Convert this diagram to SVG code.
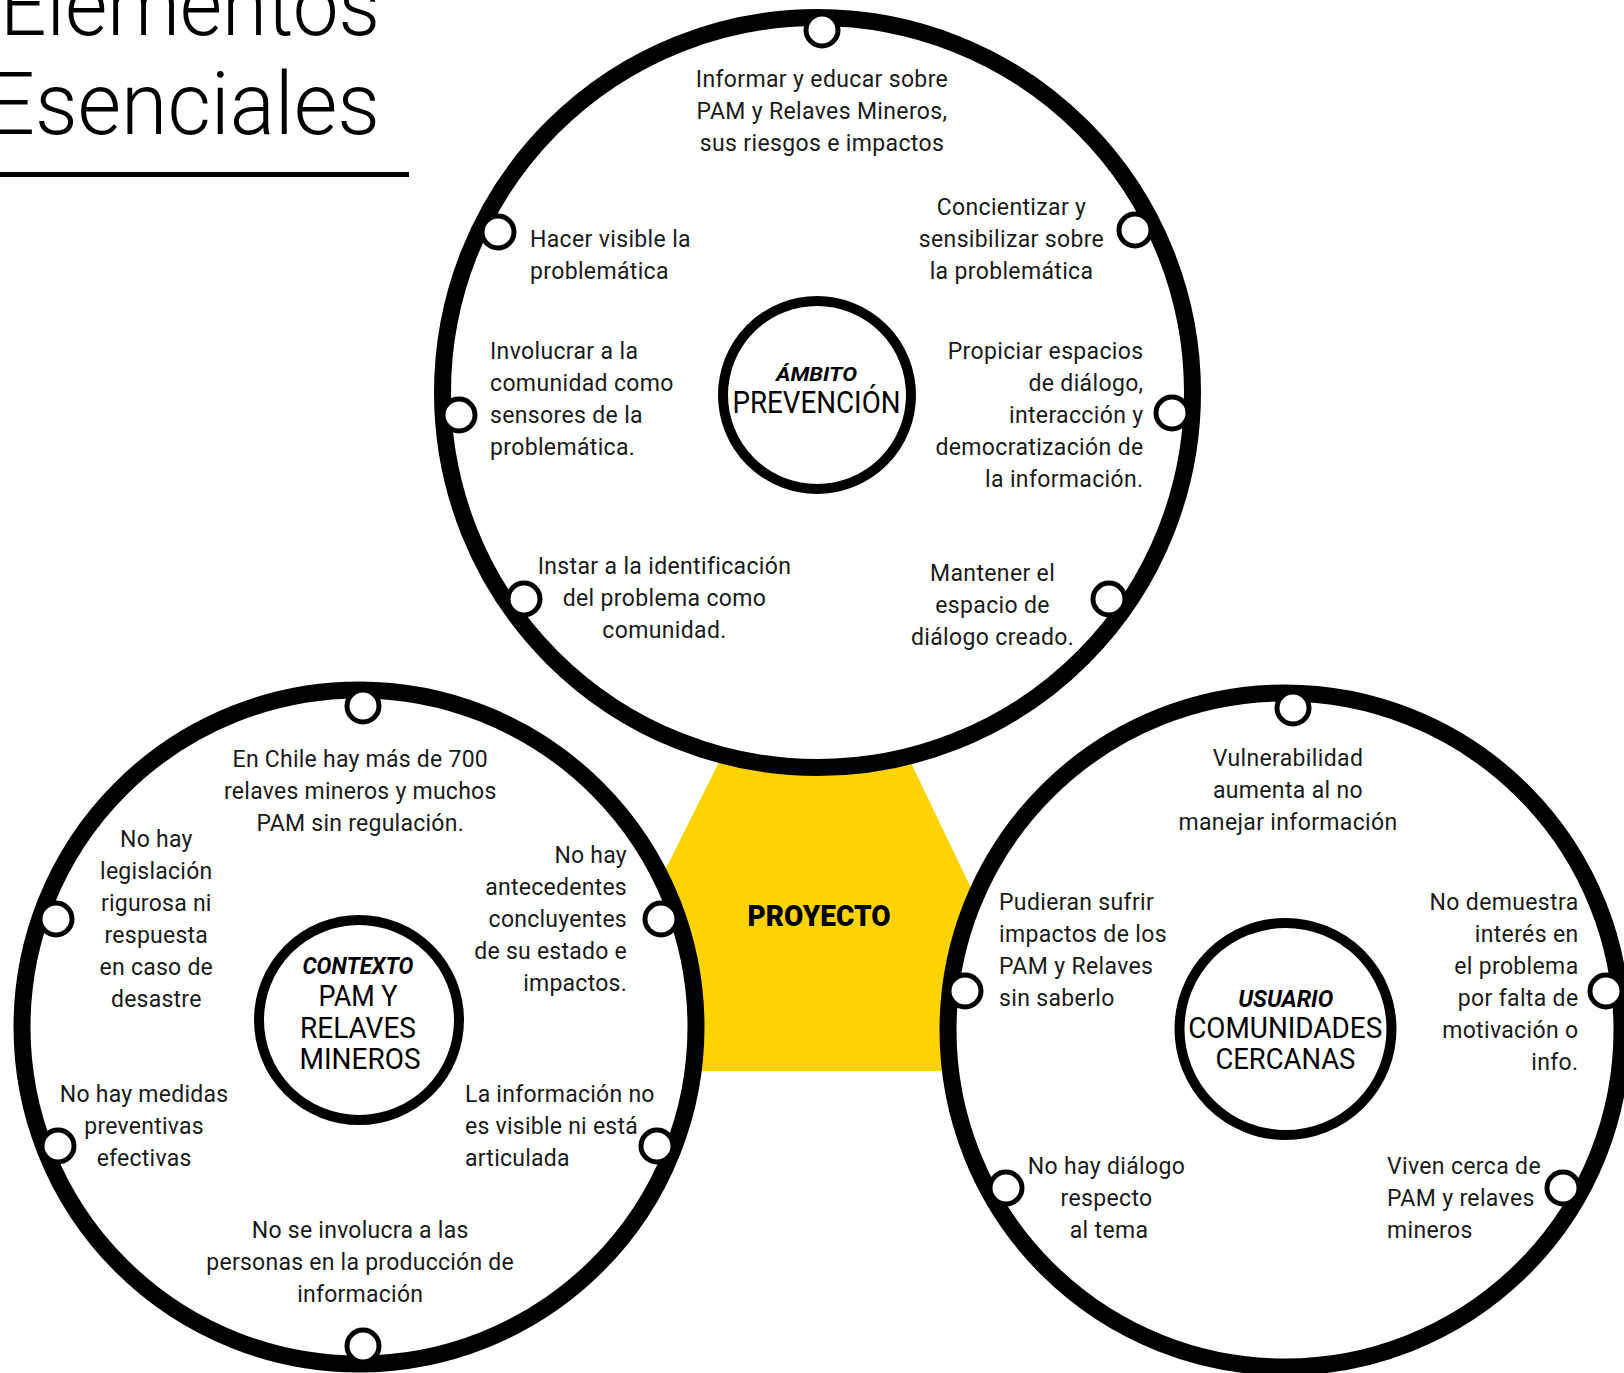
<svg xmlns="http://www.w3.org/2000/svg" width="1624" height="1373" viewBox="0 0 1624 1373">
<style>
.ring{fill:#fff;stroke:#000;stroke-width:17}
.core{fill:#fff;stroke:#000;stroke-width:10}
.node{fill:#fff;stroke:#000;stroke-width:5}
.t{font-family:Roboto,"Liberation Sans",sans-serif;font-size:23px;fill:#1a1a1a}
.ts{letter-spacing:0.35px}
.tl{letter-spacing:0.25px}
.m{text-anchor:middle}
.e{text-anchor:end}
.kw{font-family:Roboto,"Liberation Sans",sans-serif;font-weight:700;font-style:italic;fill:#000;text-anchor:middle}
.big{font-family:Roboto,"Liberation Sans",sans-serif;font-weight:400;fill:#000;text-anchor:middle}
.title{font-family:Roboto,"Liberation Sans",sans-serif;font-weight:300;font-size:88px;fill:#000;text-anchor:end}
</style>
<rect x="0" y="0" width="1624" height="1373" fill="#fff"/>

<g id="titulo">
<text class="title" x="380" y="35" textLength="380" lengthAdjust="spacingAndGlyphs">Elementos</text>
<text class="title" x="380" y="134" textLength="393" lengthAdjust="spacingAndGlyphs">Esenciales</text>
<rect x="0" y="172" width="409" height="5" fill="#000"/>
</g>

<g id="proyecto">
<polygon points="730,740 900,740 1059,1071 565,1071" fill="#FDD400"/>
</g>

<g id="connectors"></g>

<g id="ambito">
<circle class="ring" cx="817.5" cy="392.5" r="375"/>
<circle class="core" cx="817" cy="395" r="94"/>
<text class="kw" x="816.5" y="381" font-size="20" textLength="81" lengthAdjust="spacingAndGlyphs">ÁMBITO</text>
<text class="big" x="816.5" y="413" font-size="30.5" textLength="168" lengthAdjust="spacingAndGlyphs">PREVENCIÓN</text>
<circle class="node" cx="822" cy="30" r="16"/>
<circle class="node" cx="498" cy="232" r="16"/>
<circle class="node" cx="1135" cy="230" r="16"/>
<circle class="node" cx="459" cy="415" r="16"/>
<circle class="node" cx="1172" cy="413" r="16"/>
<circle class="node" cx="524" cy="599" r="16"/>
<circle class="node" cx="1109" cy="599" r="16"/>
<text class="t ts m" x="822"><tspan x="822" y="87">Informar y educar sobre</tspan><tspan x="822" y="119">PAM y Relaves Mineros,</tspan><tspan x="822" y="151">sus riesgos e impactos</tspan></text>
<text class="t ts" x="530"><tspan x="530" y="246.5">Hacer visible la</tspan><tspan x="530" y="278.5">problemática</tspan></text>
<text class="t ts m" x="1011.5"><tspan x="1011.5" y="214.5">Concientizar y</tspan><tspan x="1011.5" y="246.5">sensibilizar sobre</tspan><tspan x="1011.5" y="278.5">la problemática</tspan></text>
<text class="t ts" x="490"><tspan x="490" y="358.5">Involucrar a la</tspan><tspan x="490" y="390.5">comunidad como</tspan><tspan x="490" y="422.5">sensores de la</tspan><tspan x="490" y="454.5">problemática.</tspan></text>
<text class="t ts e" x="1143.5"><tspan x="1143.5" y="358.5">Propiciar espacios</tspan><tspan x="1143.5" y="390.5">de diálogo,</tspan><tspan x="1143.5" y="422.5">interacción y</tspan><tspan x="1143.5" y="454.5">democratización de</tspan><tspan x="1143.5" y="486.5">la información.</tspan></text>
<text class="t ts m" x="664.5"><tspan x="664.5" y="573.5">Instar a la identificación</tspan><tspan x="664.5" y="605.5">del problema como</tspan><tspan x="664.5" y="637.5">comunidad.</tspan></text>
<text class="t ts m" x="992.6"><tspan x="992.6" y="581">Mantener el</tspan><tspan x="992.6" y="613">espacio de</tspan><tspan x="992.6" y="645">diálogo creado.</tspan></text>
</g>

<g id="contexto">
<circle class="ring" cx="359" cy="1027" r="337"/>
<circle class="core" cx="359" cy="1020" r="100"/>
<text class="kw" x="358" y="974" font-size="23" textLength="111" lengthAdjust="spacingAndGlyphs">CONTEXTO</text>
<text class="big" x="358" y="1005.5" font-size="29" textLength="79" lengthAdjust="spacingAndGlyphs">PAM Y</text>
<text class="big" x="358" y="1037.5" font-size="29" textLength="116" lengthAdjust="spacingAndGlyphs">RELAVES</text>
<text class="big" x="360" y="1069" font-size="29" textLength="121" lengthAdjust="spacingAndGlyphs">MINEROS</text>
<circle class="node" cx="363" cy="706" r="16"/>
<circle class="node" cx="56" cy="919" r="16"/>
<circle class="node" cx="661" cy="919" r="16"/>
<circle class="node" cx="58" cy="1146" r="16"/>
<circle class="node" cx="657" cy="1146" r="16"/>
<circle class="node" cx="363" cy="1346" r="16"/>
<text class="t tl m" x="360.3"><tspan x="360.3" y="766.5">En Chile hay más de 700</tspan><tspan x="360.3" y="798.5">relaves mineros y muchos</tspan><tspan x="360.3" y="830.5">PAM sin regulación.</tspan></text>
<text class="t tl m" x="156.3"><tspan x="156.3" y="846.5">No hay</tspan><tspan x="156.3" y="878.5">legislación</tspan><tspan x="156.3" y="910.5">rigurosa ni</tspan><tspan x="156.3" y="942.5">respuesta</tspan><tspan x="156.3" y="974.5">en caso de</tspan><tspan x="156.3" y="1006.5">desastre</tspan></text>
<text class="t tl e" x="627"><tspan x="627" y="862.5">No hay</tspan><tspan x="627" y="894.5">antecedentes</tspan><tspan x="627" y="926.5">concluyentes</tspan><tspan x="627" y="958.5">de su estado e</tspan><tspan x="627" y="990.5">impactos.</tspan></text>
<text class="t tl m" x="144.1"><tspan x="144.1" y="1102">No hay medidas</tspan><tspan x="144.1" y="1134">preventivas</tspan><tspan x="144.1" y="1166">efectivas</tspan></text>
<text class="t tl" x="465"><tspan x="465" y="1102">La información no</tspan><tspan x="465" y="1134">es visible ni está</tspan><tspan x="465" y="1166">articulada</tspan></text>
<text class="t tl m" x="360.2"><tspan x="360.2" y="1238">No se involucra a las</tspan><tspan x="360.2" y="1270">personas en la producción de</tspan><tspan x="360.2" y="1302">información</tspan></text>
</g>

<g id="usuario">
<circle class="ring" cx="1285" cy="1030" r="337"/>
<circle class="core" cx="1285.5" cy="1029" r="106"/>
<text class="kw" x="1285.7" y="1006.5" font-size="23" textLength="95" lengthAdjust="spacingAndGlyphs">USUARIO</text>
<text class="big" x="1285.2" y="1037.5" font-size="29" textLength="194" lengthAdjust="spacingAndGlyphs">COMUNIDADES</text>
<text class="big" x="1285.4" y="1069.3" font-size="29" textLength="140" lengthAdjust="spacingAndGlyphs">CERCANAS</text>
<circle class="node" cx="1293" cy="708" r="16"/>
<circle class="node" cx="965" cy="991" r="16"/>
<circle class="node" cx="1606" cy="991" r="16"/>
<circle class="node" cx="1006" cy="1188" r="16"/>
<circle class="node" cx="1563" cy="1188" r="16"/>
<text class="t ts m" x="1288"><tspan x="1288" y="766">Vulnerabilidad</tspan><tspan x="1288" y="798">aumenta al no</tspan><tspan x="1288" y="830">manejar información</tspan></text>
<text class="t ts" x="999"><tspan x="999" y="910">Pudieran sufrir</tspan><tspan x="999" y="942">impactos de los</tspan><tspan x="999" y="974">PAM y Relaves</tspan><tspan x="999" y="1006">sin saberlo</tspan></text>
<text class="t ts e" x="1578.5"><tspan x="1578.5" y="910">No demuestra</tspan><tspan x="1578.5" y="942">interés en</tspan><tspan x="1578.5" y="974">el problema</tspan><tspan x="1578.5" y="1006">por falta de</tspan><tspan x="1578.5" y="1038">motivación o</tspan><tspan x="1578.5" y="1070">info.</tspan></text>
<text class="t ts m" x="1106.5"><tspan x="1106.5" y="1174">No hay diálogo</tspan><tspan x="1106.5" y="1206">respecto</tspan><tspan x="1109" y="1238">al tema</tspan></text>
<text class="t ts" x="1387"><tspan x="1387" y="1174">Viven cerca de</tspan><tspan x="1387" y="1206">PAM y relaves</tspan><tspan x="1387" y="1238">mineros</tspan></text>
</g>

<g id="proyecto-label">
<text x="819" y="925.5" font-family="Roboto,'Liberation Sans',sans-serif" font-weight="900" font-size="30" fill="#000" text-anchor="middle" textLength="143" lengthAdjust="spacingAndGlyphs">PROYECTO</text>
</g>
</svg>
